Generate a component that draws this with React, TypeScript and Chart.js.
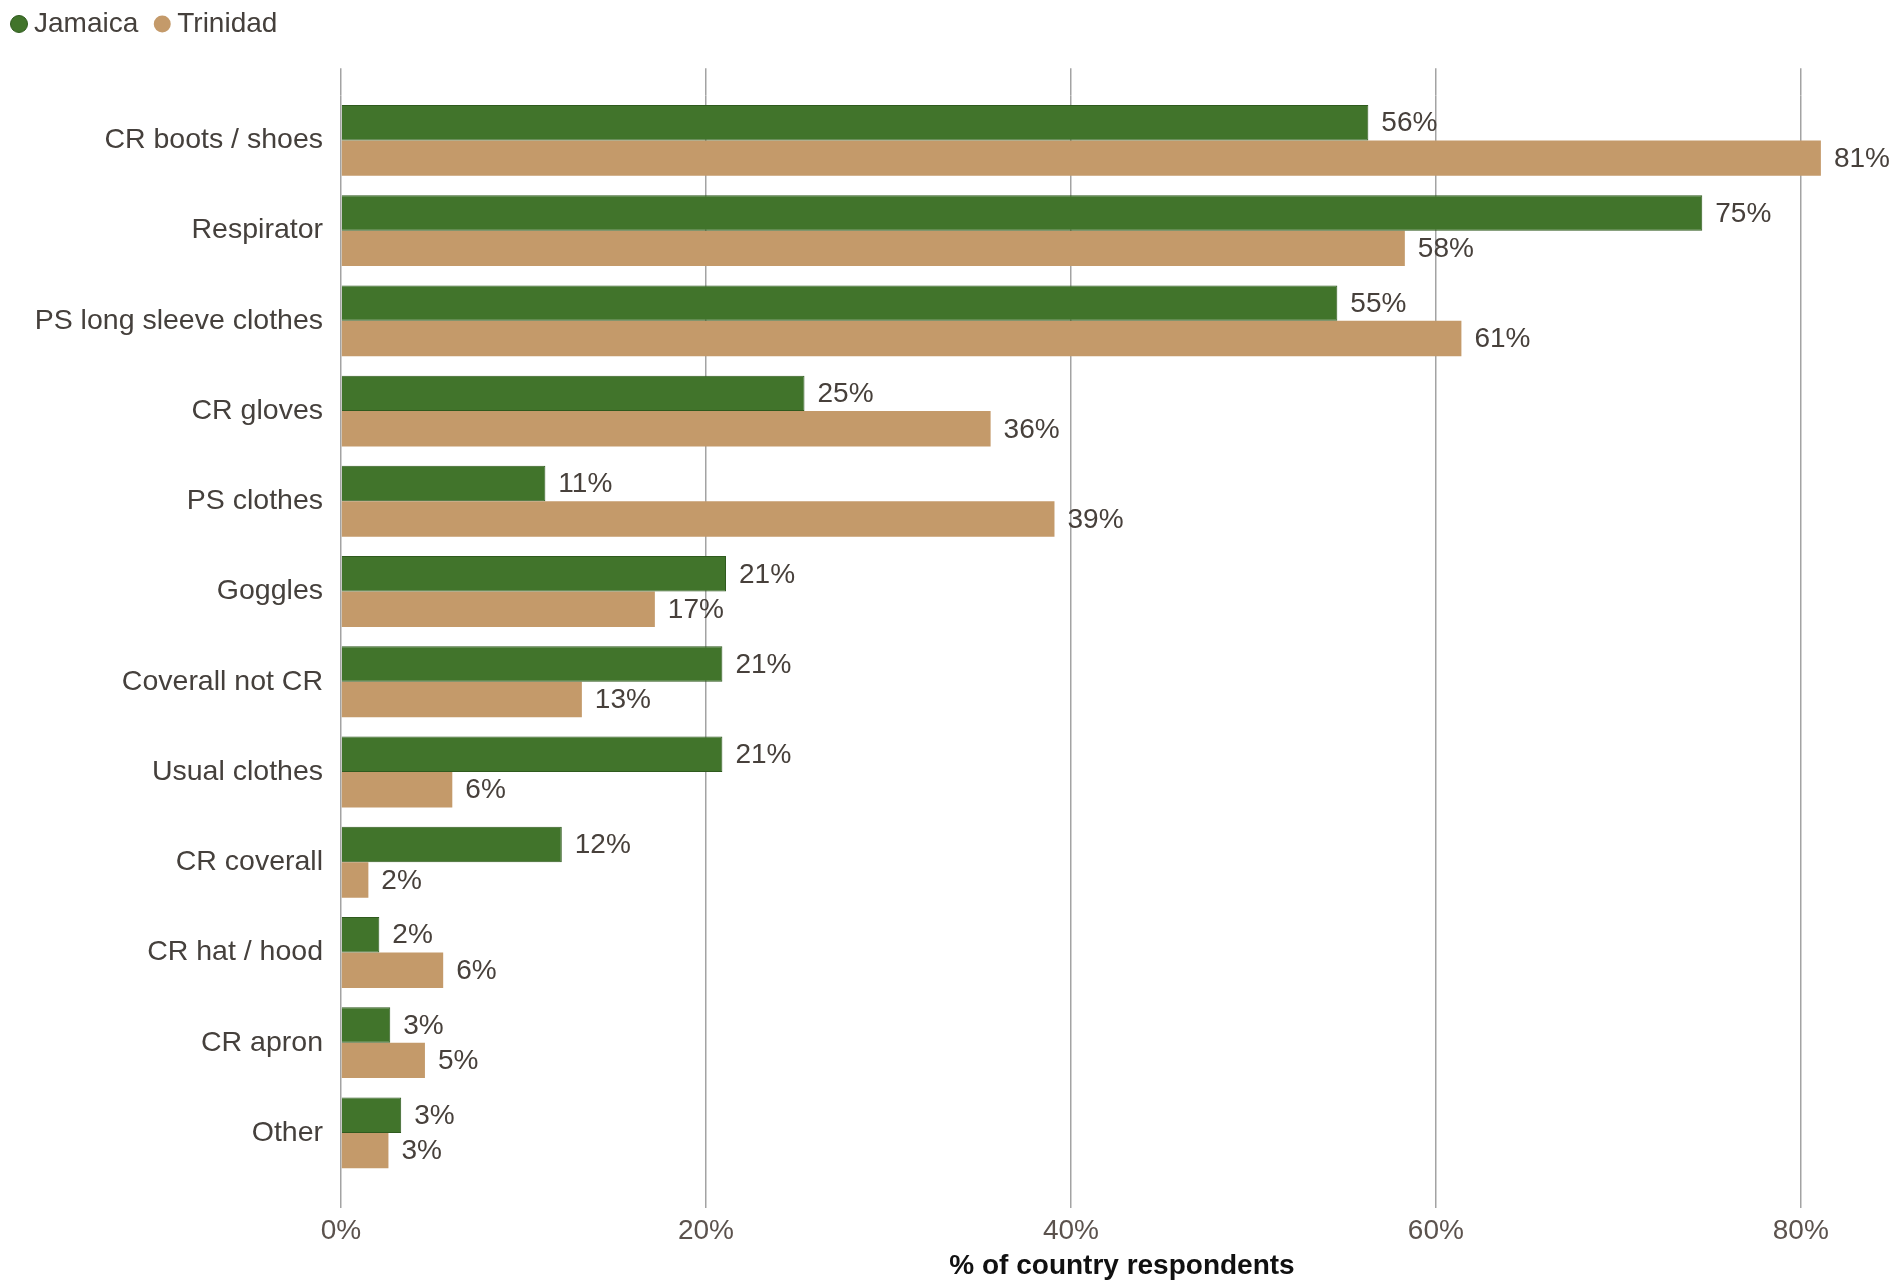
import { useEffect, useRef } from "react"
import { Chart, registerables } from "chart.js"

Chart.register(...registerables)

const categories = [
  "CR boots / shoes",
  "Respirator",
  "PS long sleeve clothes",
  "CR gloves",
  "PS clothes",
  "Goggles",
  "Coverall not CR",
  "Usual clothes",
  "CR coverall",
  "CR hat / hood",
  "CR apron",
  "Other",
]
const jamaica = [56.3, 74.6, 54.6, 25.4, 11.2, 21.1, 20.9, 20.9, 12.1, 2.1, 2.7, 3.3]
const trinidad = [81.1, 58.3, 61.4, 35.6, 39.1, 17.2, 13.2, 6.1, 1.5, 5.6, 4.6, 2.6]
const xTicks = [0, 20, 40, 60, 80]

const FONT = "'Liberation Sans', Arial, sans-serif"
const GRID = "#a3a3a3"

// % labels at the end of each bar
const valueLabels = {
  id: "valueLabels",
  afterDatasetsDraw(chart: any) {
    const ctx = chart.ctx
    ctx.save()
    ctx.font = `28px ${FONT}`
    ctx.fillStyle = "#47403b"
    ctx.textAlign = "left"
    ctx.textBaseline = "middle"
    chart.data.datasets.forEach((ds: any, i: number) => {
      const meta = chart.getDatasetMeta(i)
      meta.data.forEach((bar: any, j: number) => {
        ctx.fillText(Math.round(ds.data[j]) + "%", bar.x + 13, bar.y + 1)
      })
    })
    ctx.restore()
  },
}

const keepTicks = (axis: any) => {
  axis.ticks = axis.ticks.filter((t: any) => xTicks.includes(t.value))
}

export default function App() {
  const chartRef = useRef<HTMLCanvasElement>(null)
  const chartInstance = useRef<Chart | null>(null)

  useEffect(() => {
    if (!chartRef.current) return
    if (chartInstance.current) chartInstance.current.destroy()

    chartInstance.current = new Chart(chartRef.current, {
      type: "bar",
      data: {
        labels: categories,
        datasets: [
          {
            label: "Jamaica",
            data: jamaica,
            backgroundColor: "#41742b",
            borderColor: "#2f5a1e",
            borderWidth: 1,
            barPercentage: 1,
            categoryPercentage: 0.786,
          },
          {
            label: "Trinidad",
            data: trinidad,
            backgroundColor: "#c49a6a",
            borderColor: "#c49a6a",
            borderWidth: 0,
            barPercentage: 1,
            categoryPercentage: 0.786,
          },
        ],
      },
      options: {
        indexAxis: "y",
        responsive: true,
        maintainAspectRatio: false,
        animation: false,
        layout: { padding: 0 },
        plugins: {
          tooltip: { enabled: false },
          legend: {
            position: "top",
            align: "start",
            labels: {
              usePointStyle: true,
              pointStyle: "circle",
              boxWidth: 2,
              boxHeight: 12,
              padding: 23,
              color: "#45403c",
              font: { size: 28, family: FONT },
            },
          },
        },
        scales: {
          y: {
            type: "category",
            grid: { display: false, drawTicks: false },
            border: { display: false },
            ticks: {
              padding: 18,
              color: "#45403c",
              font: { size: 28.5, family: FONT },
            },
            afterFit: (s: any) => {
              s.width = 346
            },
          },
          x: {
            type: "linear",
            position: "bottom",
            min: 0,
            max: 85.6,
            grid: { color: GRID, lineWidth: 1.5, drawTicks: true, tickLength: 30 },
            border: { display: false },
            ticks: {
              stepSize: 20,
              padding: 6,
              color: "#5b524d",
              font: { size: 28, family: FONT },
              callback: (v: any) => v + "%",
            },
            title: {
              display: true,
              text: "% of country respondents",
              color: "#111111",
              font: { size: 28, weight: "bold", family: FONT },
              padding: { top: 0, bottom: 5 },
            },
            afterBuildTicks: keepTicks,
            afterFit: (s: any) => {
              s.height = 110
            },
          },
          xTop: {
            type: "linear",
            position: "top",
            min: 0,
            max: 85.6,
            grid: { color: GRID, lineWidth: 1.5, drawOnChartArea: false, drawTicks: true, tickLength: 27 },
            border: { display: false },
            ticks: { display: false, stepSize: 20 },
            afterBuildTicks: keepTicks,
            afterFit: (s: any) => {
              s.height = 47.3
            },
          },
        },
      } as any,
      plugins: [valueLabels],
    })

    return () => {
      if (chartInstance.current) {
        chartInstance.current.destroy()
        chartInstance.current = null
      }
    }
  }, [])

  return (
    <div style={{ position: "absolute", left: -5, top: -13, width: 1908, height: 1301, background: "#fff" }}>
      <canvas ref={chartRef} />
    </div>
  )
}
